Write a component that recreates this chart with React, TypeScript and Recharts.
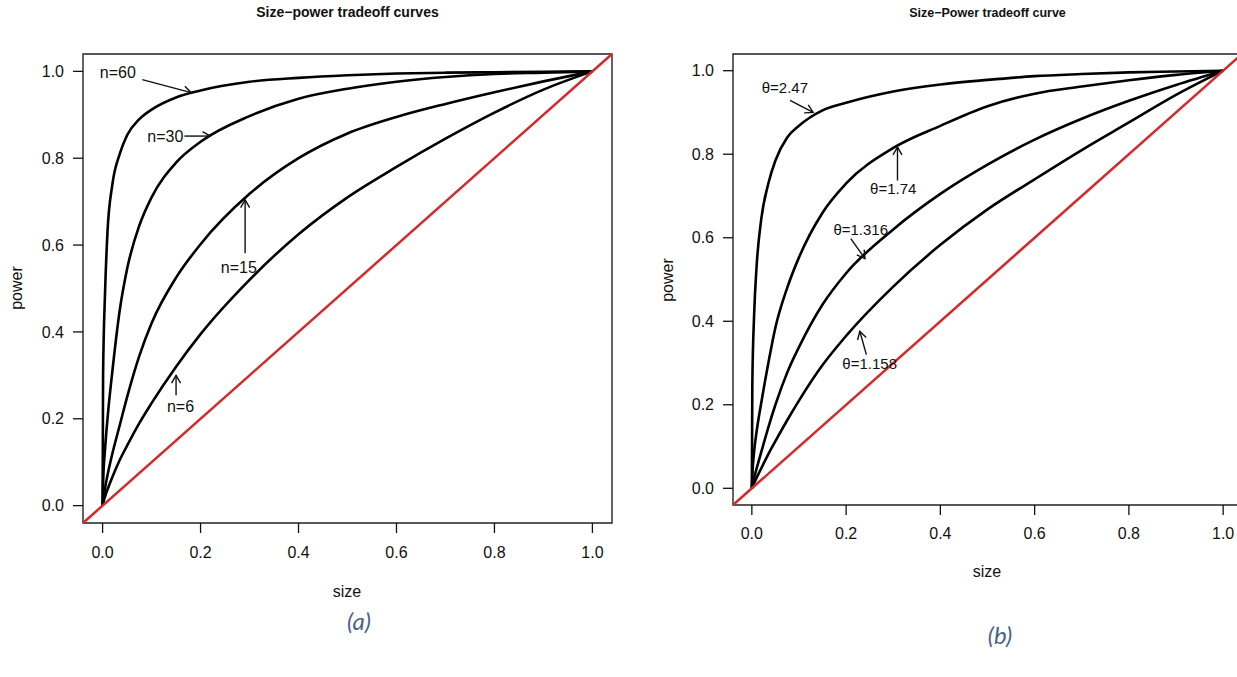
import React from 'react';
import { LineChart, Line, XAxis, YAxis, ReferenceLine, ReferenceArea, ReferenceDot } from 'recharts';

const FONT = "'Liberation Sans', Arial, Helvetica, sans-serif";

// size (type I error) grid shared by every curve
const sizes = [0, 0.001, 0.005, 0.01, 0.02, 0.035, 0.05, 0.075, 0.1, 0.15, 0.2, 0.3, 0.4, 0.5, 0.6, 0.7, 0.8, 0.9, 1];
const axisTicks = [0, 0.2, 0.4, 0.6, 0.8, 1];

// panel (a): power by sample size
const powerN60 = [0, 0.3, 0.49, 0.63, 0.74, 0.81, 0.853, 0.89, 0.912, 0.94, 0.956, 0.976, 0.985, 0.991, 0.995, 0.997, 0.998, 0.999, 1];
const powerN30 = [0, 0.05, 0.13, 0.2, 0.31, 0.45, 0.545, 0.645, 0.71, 0.79, 0.838, 0.897, 0.937, 0.96, 0.976, 0.987, 0.994, 0.997, 1];
const powerN15 = [0, 0.01, 0.04, 0.07, 0.12, 0.185, 0.25, 0.345, 0.42, 0.525, 0.602, 0.718, 0.8, 0.857, 0.895, 0.925, 0.952, 0.977, 1];
const powerN6 = [0, 0.005, 0.021, 0.037, 0.066, 0.105, 0.138, 0.19, 0.236, 0.32, 0.395, 0.52, 0.625, 0.71, 0.78, 0.845, 0.905, 0.958, 1];

// panel (b): power by theta
const powerT247 = [0, 0.25, 0.42, 0.53, 0.645, 0.73, 0.785, 0.84, 0.868, 0.905, 0.923, 0.95, 0.967, 0.978, 0.987, 0.992, 0.996, 0.998, 1];
const powerT174 = [0, 0.03, 0.09, 0.135, 0.205, 0.3, 0.385, 0.48, 0.553, 0.66, 0.73, 0.815, 0.868, 0.915, 0.945, 0.962, 0.977, 0.99, 1];
const powerT1316 = [0, 0.006, 0.026, 0.047, 0.087, 0.146, 0.2, 0.277, 0.338, 0.44, 0.515, 0.62, 0.705, 0.775, 0.835, 0.885, 0.928, 0.966, 1];
const powerT1158 = [0, 0.003, 0.013, 0.025, 0.048, 0.082, 0.113, 0.163, 0.21, 0.295, 0.365, 0.483, 0.583, 0.668, 0.74, 0.81, 0.876, 0.942, 1];

// annotation anchors in data units: label centre, arrow tail -> arrow tip
const notesA = [
  { text: 'n=60', x: 0.031, y: 0.998, tail: [0.081, 0.981], tip: [0.181, 0.951] },
  { text: 'n=30', x: 0.128, y: 0.849, tail: [0.167, 0.851], tip: [0.22, 0.851] },
  { text: 'n=15', x: 0.278, y: 0.549, tail: [0.291, 0.581], tip: [0.291, 0.704] },
  { text: 'n=6', x: 0.159, y: 0.229, tail: [0.15, 0.254], tip: [0.15, 0.3] },
];
const notesB = [
  { text: 'θ=2.47', x: 0.07, y: 0.96, tail: [0.081, 0.929], tip: [0.13, 0.9] },
  { text: 'θ=1.74', x: 0.3, y: 0.718, tail: [0.309, 0.737], tip: [0.309, 0.817] },
  { text: 'θ=1.316', x: 0.231, y: 0.619, tail: [0.21, 0.598], tip: [0.24, 0.55] },
  { text: 'θ=1.158', x: 0.25, y: 0.298, tail: [0.243, 0.32], tip: [0.229, 0.376] },
];

const dataA = sizes.map((s, i) => ({ size: s, n60: powerN60[i], n30: powerN30[i], n15: powerN15[i], n6: powerN6[i] }));
const dataB = sizes.map((s, i) => ({ size: s, t1: powerT247[i], t2: powerT174[i], t3: powerT1316[i], t4: powerT1158[i] }));

function Arrow(p: any) {
  const { x1, y1, x2, y2 } = p;
  const ang = Math.atan2(y2 - y1, x2 - x1);
  const len = 9;
  const sp = Math.PI / 6;
  const h1 = [x2 - len * Math.cos(ang - sp), y2 - len * Math.sin(ang - sp)];
  const h2 = [x2 - len * Math.cos(ang + sp), y2 - len * Math.sin(ang + sp)];
  return (
    <g stroke="#111" strokeWidth={1.4} fill="none">
      <line x1={x1} y1={y1} x2={x2} y2={y2} />
      <polyline points={`${h1[0]},${h1[1]} ${x2},${y2} ${h2[0]},${h2[1]}`} />
    </g>
  );
}

const noteText = (text: string, size: number) => (p: any) => (
  <text x={p.cx} y={p.cy} textAnchor="middle" dominantBaseline="central"
    fontSize={size} fontFamily={FONT} fill="#111">{text}</text>
);

interface PanelProps {
  data: any[];
  keys: string[];
  notes: typeof notesA;
  noteSize: number;
  yAxisWidth: number;
  xAxisHeight: number;
  rightMargin: number;
  xTickMargin: number;
}

function Panel({ data, keys, notes, noteSize, yAxisWidth, xAxisHeight, rightMargin, xTickMargin }: PanelProps) {
  const tickStyle = { fill: '#111', fontSize: 16, fontFamily: FONT };
  return (
    <LineChart width={640} height={677} data={data}
      margin={{ top: 54, right: rightMargin, bottom: 0, left: 0 }}>
      <XAxis dataKey="size" type="number" domain={[-0.04, 1.04]} allowDataOverflow
        ticks={axisTicks} interval={0} tickFormatter={(v: number) => v.toFixed(1)}
        tickSize={10} tickMargin={xTickMargin} axisLine={false}
        tickLine={{ stroke: '#111', strokeWidth: 1.3 }} tick={tickStyle} height={xAxisHeight} />
      <YAxis type="number" domain={[-0.04, 1.04]} allowDataOverflow
        ticks={axisTicks} interval={0} tickFormatter={(v: number) => v.toFixed(1)}
        tickSize={10} tickMargin={9} axisLine={false}
        tickLine={{ stroke: '#111', strokeWidth: 1.3 }} tick={tickStyle} width={yAxisWidth} />
      <ReferenceArea x1={-0.04} x2={1.04} y1={-0.04} y2={1.04} fill="none" fillOpacity={0}
        stroke="#222" strokeWidth={1.4} ifOverflow="visible" />
      {keys.map((k) => (
        <Line key={k} dataKey={k} type="monotone" stroke="#000" strokeWidth={2.6}
          dot={false} activeDot={false} isAnimationActive={false} />
      ))}
      <ReferenceLine segment={[{ x: -0.04, y: -0.04 }, { x: 1.04, y: 1.04 }]}
        stroke="#d42a2a" strokeWidth={2.5} ifOverflow="visible" />
      {notes.map((n) => (
        <ReferenceLine key={n.text + 'a'} ifOverflow="visible"
          segment={[{ x: n.tail[0], y: n.tail[1] }, { x: n.tip[0], y: n.tip[1] }]} shape={Arrow} />
      ))}
      {notes.map((n) => (
        <ReferenceDot key={n.text} x={n.x} y={n.y} r={0} ifOverflow="visible" shape={noteText(n.text, noteSize)} />
      ))}
    </LineChart>
  );
}

const abs = (s: React.CSSProperties): React.CSSProperties => ({ position: 'absolute', ...s });
const caption: React.CSSProperties = {
  fontSize: 24, fontStyle: 'italic', color: '#4a6388',
  fontFamily: 'Lato, "Open Sans", sans-serif', transform: 'translate(-50%, -50%)',
};

export default function App() {
  return (
    <div style={abs({ left: 0, top: 0, width: 1237, height: 677, overflow: 'hidden', background: '#fff', fontFamily: FONT, color: '#111' })}>
      <div style={abs({ left: 0, top: 0 })}>
        <Panel data={dataA} keys={['n60', 'n30', 'n15', 'n6']} notes={notesA} noteSize={16}
          yAxisWidth={83} xAxisHeight={154} rightMargin={28} xTickMargin={14} />
      </div>
      <div style={abs({ left: 640, top: 0 })}>
        <Panel data={dataB} keys={['t1', 't2', 't3', 't4']} notes={notesB} noteSize={15}
          yAxisWidth={93} xAxisHeight={172} rightMargin={38} xTickMargin={13} />
      </div>

      <div style={abs({ left: 83, width: 529, top: 3, textAlign: 'center', fontWeight: 'bold', fontSize: 14, lineHeight: '18px' })}>
        Size−power tradeoff curves
      </div>
      <div style={abs({ left: 733, width: 509, top: 4, textAlign: 'center', fontWeight: 'bold', fontSize: 12.5, lineHeight: '18px' })}>
        Size−Power tradeoff curve
      </div>

      <div style={abs({ left: 17, top: 288, fontSize: 16, transform: 'translate(-50%, -50%) rotate(-90deg)' })}>power</div>
      <div style={abs({ left: 668, top: 280, fontSize: 16, transform: 'translate(-50%, -50%) rotate(-90deg)' })}>power</div>
      <div style={abs({ left: 347, top: 592, fontSize: 16, transform: 'translate(-50%, -50%)' })}>size</div>
      <div style={abs({ left: 987, top: 572, fontSize: 16, transform: 'translate(-50%, -50%)' })}>size</div>

      <div style={abs({ left: 359, top: 620, ...caption })}>(a)</div>
      <div style={abs({ left: 1000, top: 634, ...caption })}>(b)</div>
    </div>
  );
}
